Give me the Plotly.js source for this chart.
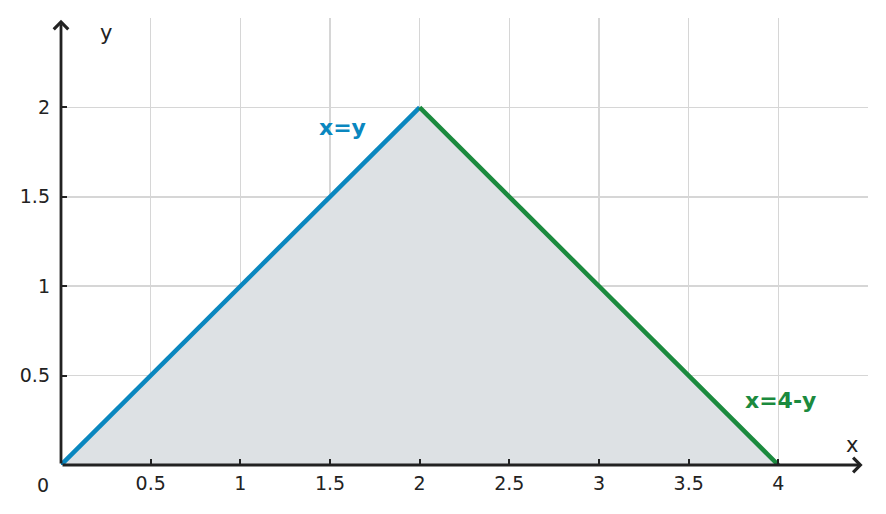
<!DOCTYPE html>
<html>
<head>
<meta charset="utf-8">
<script src="https://cdn.plot.ly/plotly-3.0.1.min.js"></script>
<style>
  html, body { margin: 0; padding: 0; background: #fff; }
  #plot { width: 886px; height: 514px; }
</style>
</head>
<body>
<div id="plot"></div>
<script>
// region bounded by x=y and x=4-y above y=0
var regionX = [0, 2, 4];
var regionY = [0, 2, 0];

var leftX = [0, 2];
var leftY = [0, 2];
var rightX = [2, 4];
var rightY = [2, 0];

var xTicks = [0.5, 1, 1.5, 2, 2.5, 3, 3.5, 4];
var yTicks = [0.5, 1, 1.5, 2];

var ink = '#222222';
var blue = '#0a87bf';
var green = '#1b8a3e';

var data = [
  { x: regionX, y: regionY, type: 'scatter', mode: 'none', fill: 'toself',
    fillcolor: '#dde1e4', hoverinfo: 'skip' },
  { x: leftX, y: leftY, type: 'scatter', mode: 'lines',
    line: { color: blue, width: 4.5 } },
  { x: rightX, y: rightY, type: 'scatter', mode: 'lines',
    line: { color: green, width: 4.5 } }
];

var layout = {
  width: 886, height: 514,
  margin: { l: 61, r: 18, t: 18, b: 49 },
  showlegend: false,
  paper_bgcolor: '#fff', plot_bgcolor: '#fff',
  font: { family: 'DejaVu Sans', size: 19, color: ink },
  xaxis: {
    range: [0, 4.5], tickvals: xTicks, ticktext: xTicks.map(String),
    ticks: 'inside', ticklen: 6, tickwidth: 2, tickcolor: ink,
    ticklabelstandoff: 5,
    showgrid: true, gridcolor: '#d6d6d6', gridwidth: 1.5,
    zeroline: false, showline: false, fixedrange: true
  },
  yaxis: {
    range: [0, 2.5], tickvals: yTicks, ticktext: yTicks.map(String),
    ticks: 'inside', ticklen: 6, tickwidth: 2, tickcolor: ink,
    ticklabelstandoff: 10,
    showgrid: true, gridcolor: '#d6d6d6', gridwidth: 1.5,
    zeroline: false, showline: false, fixedrange: true
  },
  annotations: [
    // axes with arrow heads
    { x: 4.47, y: 0, ax: 0, ay: 0, xref: 'x', yref: 'y', axref: 'x', ayref: 'y',
      showarrow: true, arrowhead: 4, arrowsize: 1, arrowwidth: 2.8, arrowcolor: ink, text: '' },
    { x: 0, y: 2.49, ax: 0, ay: 0, xref: 'x', yref: 'y', axref: 'x', ayref: 'y',
      showarrow: true, arrowhead: 4, arrowsize: 1, arrowwidth: 2.8, arrowcolor: ink, text: '' },
    { x: 4.41, y: 0.11, text: 'x', showarrow: false, font: { size: 21, color: ink } },
    { x: 0.25, y: 2.415, text: 'y', showarrow: false, font: { size: 21, color: ink } },
    { x: 0, y: 0, text: '0', showarrow: false, xshift: -18, yshift: -20, font: { size: 19, color: ink } },
    { x: 1.567, y: 1.885, text: '<b>x=y</b>', showarrow: false, font: { size: 22, color: blue } },
    { x: 4.01, y: 0.358, text: '<b>x=4-y</b>', showarrow: false, font: { size: 22, color: green } }
  ]
};

Plotly.newPlot('plot', data, layout, { displayModeBar: false, staticPlot: true });
</script>
</body>
</html>
